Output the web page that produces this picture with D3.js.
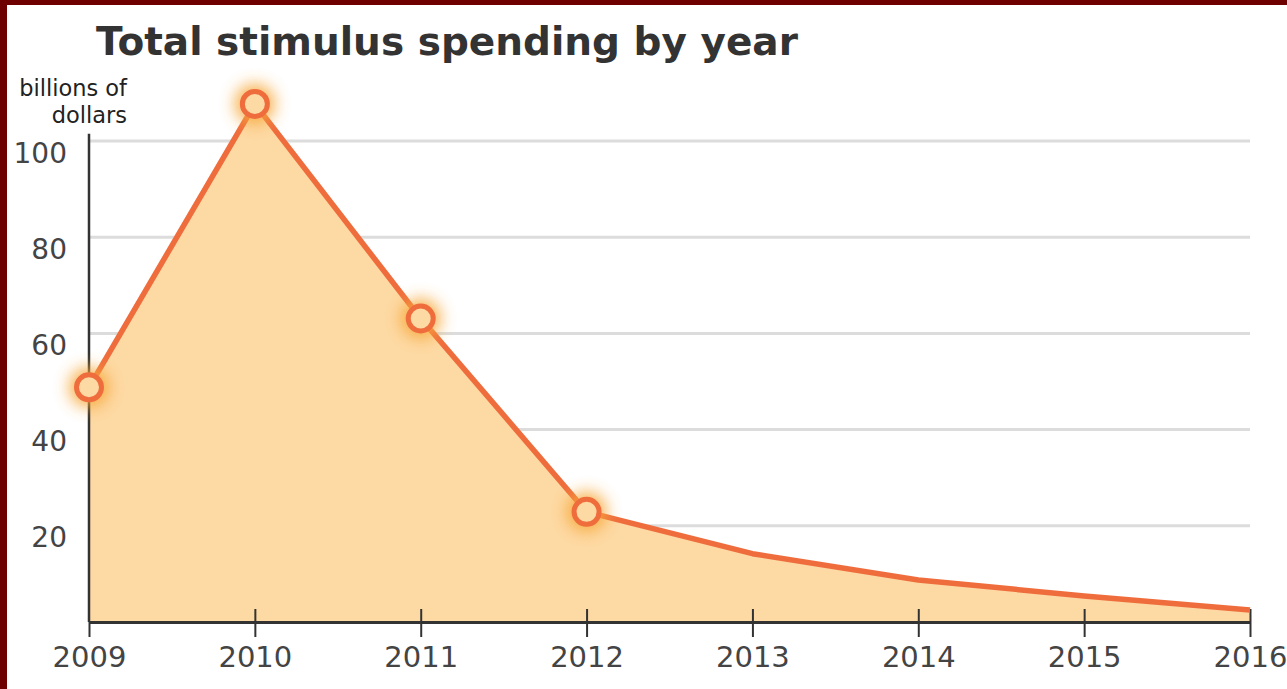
<!DOCTYPE html>
<html>
<head>
<meta charset="utf-8">
<script src="https://cdn.jsdelivr.net/npm/d3@7"></script>
<style>
  html, body { margin: 0; padding: 0; background: #fff; }
  svg { display: block; }
</style>
</head>
<body>
<svg id="area" width="1287" height="689"></svg>
<script>
const years = [2009, 2010, 2011, 2012, 2013, 2014, 2015, 2016];
const spending = [48.8, 107.7, 63.1, 22.9, 14.2, 8.75, 5.4, 2.5];
const markedYears = [2009, 2010, 2011, 2012];
const yTicks = [20, 40, 60, 80, 100];
const title = 'Total stimulus spending by year';
const unitLines = ['billions of', 'dollars'];

const data = years.map((yr, i) => ({ year: yr, value: spending[i] }));

const width = 1287;
const height = 689;
const margin = { top: 141, bottom: 67, left: 89, right: 37 };
const font = '"DejaVu Sans", Verdana, sans-serif';

const svg = d3.select('#area');

// frame
svg.append('rect')
  .attr('x', 0).attr('y', 0)
  .attr('width', width).attr('height', height)
  .attr('fill', '#fff');
svg.append('rect')
  .attr('x', 0).attr('y', 0)
  .attr('width', width).attr('height', 5)
  .attr('fill', '#6e0000');
svg.append('rect')
  .attr('x', 0).attr('y', 0)
  .attr('width', 7).attr('height', height)
  .attr('fill', '#6e0000');

const x = d3.scaleLinear()
  .domain([2009, 2016])
  .range([margin.left, width - margin.right]);
const y = d3.scaleLinear()
  .domain([0, 100])
  .range([height - margin.bottom, margin.top]);

const defs = svg.append('defs');
const glow = defs.append('filter')
  .attr('id', 'glow')
  .attr('x', '-100%').attr('y', '-100%')
  .attr('width', '300%').attr('height', '300%');
glow.append('feGaussianBlur')
  .attr('stdDeviation', 8);

// grid
svg.append('g')
  .selectAll('line')
  .data(yTicks)
  .enter().append('line')
  .attr('x1', x(2009))
  .attr('x2', x(2016))
  .attr('y1', (d) => y(d))
  .attr('y2', (d) => y(d))
  .attr('stroke', '#dcdcdc')
  .attr('stroke-width', 3);

const area = d3.area()
  .x((d) => x(d.year))
  .y0(y(0))
  .y1((d) => y(d.value));
const line = d3.line()
  .x((d) => x(d.year))
  .y((d) => y(d.value));

svg.append('path')
  .datum(data)
  .attr('d', area)
  .attr('fill', '#fdd9a4');

// axes
const xAxis = d3.axisBottom(x)
  .tickValues(years)
  .tickFormat(d3.format('d'))
  .tickSize(15)
  .tickSizeOuter(0);
const gx = svg.append('g')
  .attr('transform', `translate(0, ${y(0)})`)
  .call(xAxis);
gx.select('.domain').attr('stroke', '#333').attr('stroke-width', 3);
gx.selectAll('.tick line')
  .attr('stroke', '#333')
  .attr('stroke-width', 2)
  .attr('y1', (d) => (d === 2009 ? 0 : -13));
gx.selectAll('.tick text')
  .attr('y', 45)
  .attr('dy', 0)
  .attr('fill', '#444')
  .style('font-family', font)
  .style('font-size', '29px');

const yAxis = d3.axisLeft(y)
  .tickValues(yTicks)
  .tickSize(0)
  .tickPadding(22);
const gy = svg.append('g')
  .attr('transform', `translate(${x(2009)}, 0)`)
  .call(yAxis);
gy.select('.domain')
  .attr('d', `M0,${y(101.5)}V${y(0)}`)
  .attr('stroke', '#333')
  .attr('stroke-width', 2.5);
gy.selectAll('.tick text')
  .attr('dy', 21)
  .attr('fill', '#444')
  .style('font-family', font)
  .style('font-size', '28px');

svg.append('path')
  .datum(data)
  .attr('d', line)
  .attr('fill', 'none')
  .attr('stroke', '#ef6d3d')
  .attr('stroke-width', 5.5)
  .attr('stroke-linejoin', 'round');

const marked = data.filter((d) => markedYears.includes(d.year));
svg.append('g')
  .selectAll('circle')
  .data(marked)
  .enter().append('circle')
  .attr('cx', (d) => x(d.year))
  .attr('cy', (d) => y(d.value))
  .attr('r', 20)
  .attr('fill', '#f6a83a')
  .attr('opacity', 0.9)
  .attr('filter', 'url(#glow)');
svg.append('g')
  .selectAll('circle')
  .data(marked)
  .enter().append('circle')
  .attr('cx', (d) => x(d.year))
  .attr('cy', (d) => y(d.value))
  .attr('r', 12.5)
  .attr('fill', '#fdd9a4')
  .attr('stroke', '#ef6d3d')
  .attr('stroke-width', 5);

// title and unit label
svg.append('text')
  .attr('x', 96)
  .attr('y', 55)
  .attr('fill', '#333')
  .style('font-family', font)
  .style('font-weight', 'bold')
  .style('font-size', '39px')
  .text(title);

svg.append('text')
  .attr('text-anchor', 'end')
  .attr('fill', '#222')
  .style('font-family', font)
  .style('font-size', '22.5px')
  .selectAll('tspan')
  .data(unitLines)
  .enter().append('tspan')
  .attr('x', 127)
  .attr('y', (d, i) => 96 + i * 27)
  .text((d) => d);
</script>
</body>
</html>
